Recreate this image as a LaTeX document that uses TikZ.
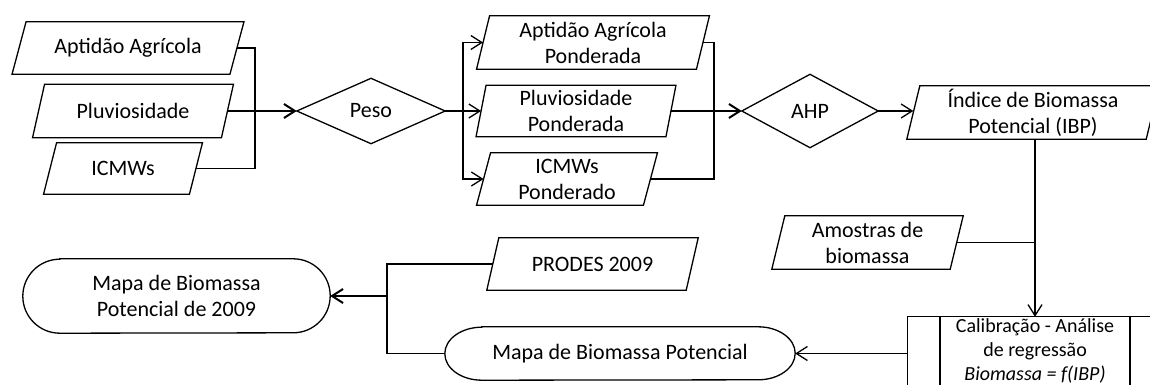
\documentclass[tikz,border=0pt]{standalone}
\usepackage{fontspec}
\setmainfont{Carlito}
\usetikzlibrary{arrows.meta,calc}
\tikzset{
  txt/.style={inner sep=0pt, align=center, font=\fontsize{22}{26}\selectfont},
  ln/.style={line width=1.3pt, draw=black},
  thk/.style={line width=2pt, draw=black},
  arr/.style={-{Straight Barb[length=11pt,width=14pt,line width=1.3pt]}},
  arrt/.style={-{Straight Barb[length=11pt,width=14pt,line width=2pt]}},
}
% parallelogram: name, cx, cy, w, h, skew, text
\newcommand\mypara[7]{%
  \node[txt, minimum width=#4pt, minimum height=#5pt] (#1) at (#2,#3) {#7};
  \draw[ln] ($(#1.north west)+(#6/2,0)$) -- ($(#1.north east)+(#6/2,0)$)
    -- ($(#1.south east)-(#6/2,0)$) -- ($(#1.south west)-(#6/2,0)$) -- cycle;
}
% diamond: name, cx, cy, w, h, text
\newcommand\mydiam[6]{%
  \node[txt, minimum width=#4pt, minimum height=#5pt] (#1) at (#2,#3) {#6};
  \draw[ln] (#1.west) -- (#1.north) -- (#1.east) -- (#1.south) -- cycle;
}
% stadium: name, cx, cy, w, h, rx, text
\newcommand\mystad[7]{%
  \node[txt, minimum width=#4pt, minimum height=#5pt] (#1) at (#2,#3) {#7};
  \draw[ln] ($(#1.north west)+(#6,0)$) -- ($(#1.north east)-(#6,0)$)
    arc[start angle=-90, end angle=90, x radius=#6, y radius=#5/2]
    -- ($(#1.south west)+(#6,0)$)
    arc[start angle=90, end angle=270, x radius=#6, y radius=#5/2] -- cycle;
}
\begin{document}
\begin{tikzpicture}[x=1pt,y=-1pt]
\useasboundingbox (0,0) rectangle (1150,385);
\clip (0,0) rectangle (1150,385);
% inputs
\mypara{a1}{128}{48}{217.5}{52}{14}{Aptidão Agrícola}
\mypara{a2}{133}{111}{188.5}{53}{12}{Pluviosidade}
\mypara{a3}{123}{168.5}{145.5}{51}{13}{ICMWs}
\mydiam{peso}{371}{111}{148}{65}{Peso}
% weighted
\mypara{b1}{593}{42.5}{219.5}{53}{13}{Aptidão Agrícola\\Ponderada}
\mypara{b2}{576}{111}{189.5}{51}{10}{Pluviosidade\\Ponderada}
\mypara{b3}{567}{179}{166.5}{52}{14}{ICMWs\\Ponderado}
\mydiam{ahp}{810}{111}{136}{73}{AHP}
\mypara{c}{1033}{112.5}{239}{53}{13}{Índice de Biomassa\\Potencial (IBP)}
\mypara{d}{867.5}{242.5}{178}{53}{13}{Amostras de\\biomassa}
\mypara{e}{592.5}{264}{199}{52}{12}{PRODES 2009}
% calibration
\node[inner sep=0pt, minimum width=254pt, minimum height=80pt] (cal) at (1035,357) {};
\node[txt, font=\fontsize{20}{24}\selectfont] (caltxt) at (1035,351)
  {Calibração - Análise\\de regressão\\\textit{Biomassa = f(IBP)}};
\draw[ln] (cal.north west) rectangle (cal.south east);
\draw[ln] ($(cal.north)+(-95,0)$) -- ($(cal.south)+(-95,0)$);
\draw[ln] ($(cal.north)+(95,0)$) -- ($(cal.south)+(95,0)$);
% maps
\mystad{mp}{620}{353.5}{350}{53}{37}{Mapa de Biomassa Potencial}
\mystad{m09}{176.5}{296}{307}{74}{37}{Mapa de Biomassa\\Potencial de 2009}
% junctions
\coordinate (j1) at (255,111);
\coordinate (j2) at (463,111);
\coordinate (j3) at (714,111);
\coordinate (j4) at (1035,242.5);
\coordinate (j5) at (387,296);
% connectors
\draw[ln] (a1.east) -| (j1);
\draw[ln] (a3.east) -| (j1);
\draw[thk,arrt] (a2.east) -- (peso.west);
\draw[ln] (peso.east) -- (j2);
\draw[ln,arr] (j2) |- (b1.west);
\draw[ln,arr] (j2) -- (b2.west);
\draw[ln,arr] (j2) |- (b3.west);
\draw[ln] (b1.east) -| (j3);
\draw[ln] (b3.east) -| (j3);
\draw[thk,arrt] (b2.east) -- (ahp.west);
\draw[ln,arr] (ahp.east) -- (ahp.east -| c.west);
\draw[ln,arr] (c.south -| j4) -- (cal.north -| j4);
\draw[ln] (d.east) -- (j4);
\draw[ln,arr] (mp.east -| cal.west) -- (mp.east);
\draw[ln] (mp.west) -| (j5) |- (e.west);
\draw[thk,arrt] (j5) -- (m09.east);
\end{tikzpicture}
\end{document}
